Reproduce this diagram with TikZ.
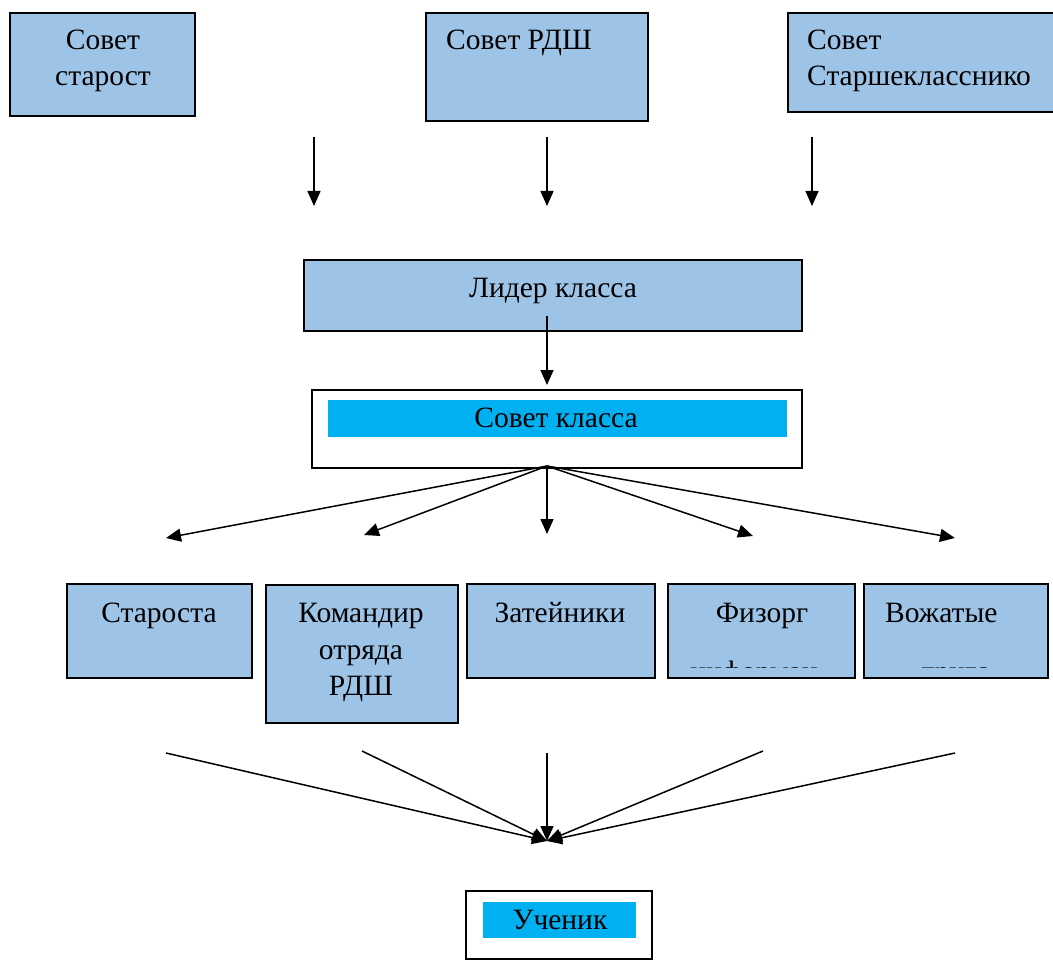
\documentclass[tikz,border=0pt]{standalone}
\usepackage{fontspec}
\setmainfont{Liberation Serif}
\usetikzlibrary{arrows.meta}
\definecolor{boxblue}{HTML}{9DC3E6}
\definecolor{hlcyan}{HTML}{00B0F0}
\begin{document}
\begin{tikzpicture}[x=1pt,y=-1pt,
 box/.style={draw=black,line width=1.6pt,fill=boxblue,inner sep=0pt,outer sep=0pt},
 wbox/.style={draw=black,line width=1.6pt,fill=white,inner sep=0pt,outer sep=0pt},
 hl/.style={fill=hlcyan,inner sep=0pt,outer sep=0pt},
 txt/.style={anchor=base,inner sep=0pt,font=\fontsize{29.5}{36}\selectfont},
 ltxt/.style={anchor=base west,inner sep=0pt,font=\fontsize{29.5}{36}\selectfont},
 arr/.style={line width=1.5pt,-{Triangle[length=15pt,width=13pt]}},
]
\clip (0,0) rectangle (1053,960);
\fill[white] (0,0) rectangle (1053,960);
% top boxes
\node[box,minimum width=185pt,minimum height=103pt] (ss) at (102.5,64.5) {};
\node[box,minimum width=222pt,minimum height=108pt] (rdsh) at (537,67) {};
\node[box,minimum width=282pt,minimum height=99pt] (sst) at (929,62.5) {};
\node[txt] (ss1) at (103,50) {Совет};
\node[txt] (ss2) at (103,86) {старост};
\node[ltxt] (rdsh1) at (446,50) {Совет РДШ};
\node[ltxt] (sst1) at (807,50) {Совет};
\node[ltxt] (sst2) at (807,86) {Старшекласснико};
% arrows to leader
\coordinate (a1s) at (314,137); \coordinate (a1e) at (314,206);
\coordinate (a2s) at (547,137); \coordinate (a2e) at (547,206);
\coordinate (a3s) at (812,137); \coordinate (a3e) at (812,206);
\draw[arr] (a1s) -- (a1e);
\draw[arr] (a2s) -- (a2e);
\draw[arr] (a3s) -- (a3e);
% leader
\node[box,minimum width=498pt,minimum height=71pt] (lider) at (553,295.5) {};
\node[txt] (lider1) at (553,298) {Лидер класса};
% class council
\node[wbox,minimum width=490pt,minimum height=78pt] (sk) at (557,429) {};
\node[hl,minimum width=459pt,minimum height=37pt] (skhl) at (557.5,418.5) {};
\node[txt] (sk1) at (556,427) {Совет класса};
\coordinate (ls) at (547,316); \coordinate (le) at (547,385);
\draw[arr] (ls) -- (le);
% fan out
\coordinate (fan) at (547,466);
\coordinate (f1) at (166,538);
\coordinate (f2) at (364,535);
\coordinate (f3) at (547,534);
\coordinate (f4) at (753,536);
\coordinate (f5) at (955,538);
\foreach \t in {f1,f2,f3,f4,f5} \draw[arr] (fan) -- (\t);
% lower boxes
\node[box,minimum width=185pt,minimum height=94pt] (st) at (159.5,631) {};
\node[box,minimum width=192pt,minimum height=138pt] (kom) at (362,654) {};
\node[box,minimum width=188pt,minimum height=94pt] (zat) at (561,631) {};
\node[box,minimum width=187pt,minimum height=94pt] (fiz) at (761.5,631) {};
\node[box,minimum width=184pt,minimum height=94pt] (voz) at (956,631) {};
\node[txt] (st1) at (159,622) {Староста};
\node[txt] (kom1) at (361,622) {Командир};
\node[txt] (kom2) at (361,659) {отряда};
\node[txt] (kom3) at (361,695) {РДШ};
\node[txt] (zat1) at (560,622) {Затейники};
\node[txt] (fiz1) at (762,622) {Физорг};
\node[ltxt] (voz1) at (885,622) {Вожатые};
\begin{scope}
\clip (670,640) rectangle (853,667);
\node[txt] (fiz2) at (754,681) {информац};
\end{scope}
\begin{scope}
\clip (866,640) rectangle (1046,667);
\node[txt] (voz2) at (956,681) {труда};
\end{scope}
% fan in
\coordinate (g) at (547,841);
\coordinate (g1) at (166,753);
\coordinate (g2) at (362,751);
\coordinate (g3) at (547,753);
\coordinate (g4) at (763,751);
\coordinate (g5) at (955,753);
\foreach \s in {g1,g2,g3,g4,g5} \draw[arr] (\s) -- (g);
% pupil
\node[wbox,minimum width=186pt,minimum height=68pt] (uch) at (559,925) {};
\node[hl,minimum width=153pt,minimum height=36pt] (uchhl) at (559.5,920) {};
\node[txt] (uch1) at (560,929) {Ученик};
\end{tikzpicture}
\end{document}
